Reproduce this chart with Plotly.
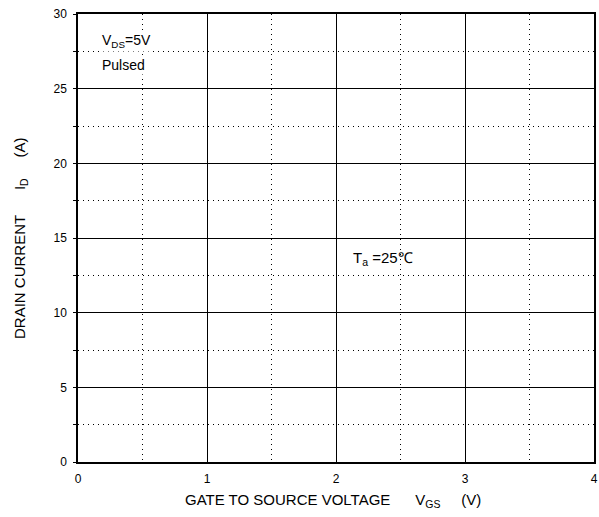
import plotly.graph_objects as go

x_ticks = [0, 1, 2, 3, 4]
y_ticks = [0, 5, 10, 15, 20, 25, 30]
x_range = [0, 4]
y_range = [0, 30]

fig = go.Figure()
fig.add_trace(go.Scatter(x=[], y=[], mode="lines", showlegend=False))

font_family = "Liberation Sans, Arial, sans-serif"
W, H = 599, 517
L, R, T, B = 78, 5, 14, 55
PW, PH = W - L - R, H - T - B

fig.update_layout(
    width=W, height=H,
    margin=dict(l=L, r=R, t=T, b=B, autoexpand=False),
    paper_bgcolor="white", plot_bgcolor="white",
    font=dict(family=font_family, size=12, color="black"),
    showlegend=False,
)
fig.update_xaxes(
    range=x_range, tickvals=x_ticks, ticktext=[str(v) for v in x_ticks],
    showgrid=True, gridcolor="black", gridwidth=1,
    showline=True, linecolor="black", linewidth=1.5, mirror=True,
    ticks="", zeroline=False, automargin=False, ticklabelstandoff=5,
    minor=dict(dtick=0.5, showgrid=True, gridcolor="black", griddash="1px,4px", gridwidth=1),
    tickfont=dict(size=12),
)
fig.update_yaxes(
    range=y_range, tickvals=y_ticks, ticktext=[str(v) for v in y_ticks],
    showgrid=True, gridcolor="black", gridwidth=1,
    showline=True, linecolor="black", linewidth=1.5, mirror=True,
    ticks="", zeroline=False, automargin=False, ticklabelstandoff=7,
    minor=dict(dtick=2.5, showgrid=True, gridcolor="black", griddash="1px,4px", gridwidth=1,
               ticks="outside", ticklen=3, tickcolor="black"),
    tickfont=dict(size=12),
)

fig.add_annotation(x=(333 - L) / PW, y=-(500 - (H - B)) / PH, xref="paper", yref="paper",
                   text="GATE TO SOURCE VOLTAGE      V<sub>GS</sub>     (V)",
                   showarrow=False, font=dict(size=15), xanchor="center", yanchor="middle")
fig.add_annotation(x=-(L - 20) / PW, y=(H - B - 238) / PH, xref="paper", yref="paper",
                   text="DRAIN CURRENT      I<sub>D</sub>     (A)", textangle=-90,
                   showarrow=False, font=dict(size=15), xanchor="center", yanchor="middle")

fig.add_annotation(x=0.17, y=28.2, xref="x", yref="y", text="V<sub>DS</sub>=5V",
                   showarrow=False, xanchor="left", font=dict(size=14), bgcolor="white")
fig.add_annotation(x=0.17, y=26.6, xref="x", yref="y", text="Pulsed",
                   showarrow=False, xanchor="left", font=dict(size=14), bgcolor="white")
fig.add_annotation(x=2.12, y=13.6, xref="x", yref="y", text="T<sub>a</sub> =25℃",
                   showarrow=False, xanchor="left", font=dict(size=15))

fig.write_html("out.html", config={"displayModeBar": False},
               post_script="document.body.style.margin='0px';")
